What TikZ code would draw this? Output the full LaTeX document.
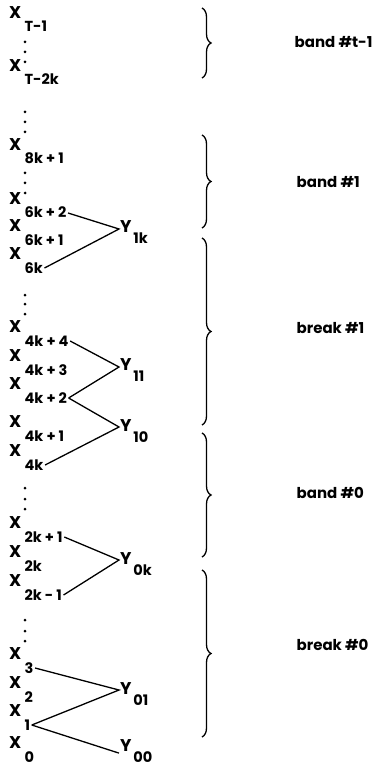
\documentclass[tikz,border=0pt]{standalone}
\usepackage{fontspec}
\setmainfont{Poppins}
\usetikzlibrary{decorations.pathreplacing}

\begin{document}
\begin{tikzpicture}[x=1pt, y=-1pt, line width=1.3pt,
  sub/.style={anchor=west, inner sep=1pt, text height=10pt, text depth=0pt,
    font=\bfseries\fontsize{14.5}{14.5}\selectfont},
  xvar/.style={sub, label={[anchor=south east, inner sep=0pt, xshift=-1pt, yshift=1pt,
    font=\bfseries\fontsize{17}{17}\selectfont]north west:X}},
  yvar/.style={anchor=west, inner sep=0.5pt, font=\bfseries\fontsize{17}{17}\selectfont},
  ylab/.style={anchor=north west, inner sep=0pt, yshift=2pt, font=\bfseries\fontsize{14.5}{14.5}\selectfont},
  grp/.style={decorate, decoration={brace, amplitude=9pt}},
  grplabel/.style={anchor=west, inner sep=0pt, font=\bfseries\fontsize{15}{15}\selectfont}]
  \useasboundingbox (0,0) rectangle (375,767);

  % input series
  \foreach \n/\s/\y in {tm1/T-1/27, t2k/T-2k/80, s8k1/{8k + 1}/159,
      s6k2/{6k + 2}/213, s6k1/{6k + 1}/240, s6k/6k/268,
      s4k4/{4k + 4}/341, s4k3/{4k + 3}/370, s4k2/{4k + 2}/398,
      s4k1/{4k + 1}/436, s4k/4k/465,
      s2k1/{2k + 1}/537, s2k/2k/566, s2km/{2k - 1}/595,
      s3/3/668, s2/2/697, s1/1/725, s0/0/757}
    \node[xvar] (\n) at (23,\y) {\s};

  % vertical dots
  \foreach \y in {42,52,62, 112,122,132, 173,183,193, 295,304,314,
      488,499,509, 620,631,641}
    \fill (25,\y) circle (1.5pt);

  % outputs
  \node[yvar, label={[ylab]south east:1k}] (y1k) at (119,227) {Y};
  \node[yvar, label={[ylab]south east:11}] (y11) at (119,365) {Y};
  \node[yvar, label={[ylab]south east:10}] (y10) at (119,426) {Y};
  \node[yvar, label={[ylab]south east:0k}] (y0k) at (119,559) {Y};
  \node[yvar, label={[ylab]south east:01}] (y01) at (119,689) {Y};
  \node[yvar, label={[ylab]south east:00}] (y00) at (119,746) {Y};

  \draw (s6k2.east) -- ([yshift=-2pt]y1k.west) -- (s6k.east);
  \draw (s4k4.east) -- ([yshift=-2pt]y11.west) -- (s4k2.east);
  \draw (s4k2.east) -- ([yshift=-1pt]y10.west) -- (s4k.east);
  \draw (s2k1.east) -- ([yshift=-1pt]y0k.west) -- (s2km.east);
  \draw (s3.east) -- ([yshift=-1pt]y01.west) -- (s1.east);
  \draw (s1.east) -- (y00.south west);

  % bands and breaks
  \draw[grp] (202,8) -- (202,78);
  \draw[grp] (202,135) -- (202,228);
  \draw[grp] (202,238) -- (202,425);
  \draw[grp] (202,433) -- (202,557);
  \draw[grp] (202,570) -- (202,737);

  \node[grplabel] (bt) at (294,42) {band \#t-1};
  \node[grplabel] (b1) at (296,182) {band \#1};
  \node[grplabel] (k1) at (296,328) {break \#1};
  \node[grplabel] (b0) at (296,493) {band \#0};
  \node[grplabel] (k0) at (296,645) {break \#0};
\end{tikzpicture}
\end{document}
